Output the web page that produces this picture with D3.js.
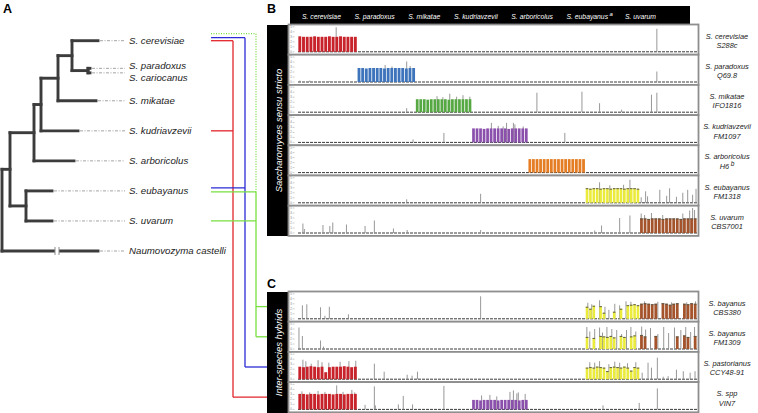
<!DOCTYPE html>
<html><head><meta charset="utf-8">
<script src="https://cdn.jsdelivr.net/npm/d3@7"></script>
<style>
html,body{margin:0;padding:0;background:#fff;}
svg{display:block;font-family:"Liberation Sans",Arial,Helvetica,sans-serif;}
</style></head><body>
<svg id="chart" width="758" height="413"></svg>
<script>
// ================= DATA =================
const refSpecies = ["S. cerevisiae","S. paradoxus","S. mikatae","S. kudriavzevii","S. arboricolus","S. eubayanus","S. uvarum"];
const refSuperscript = ["","","","","","a",""];
const genomeMb = [12.1, 11.9, 11.5, 11.5, 11.7, 11.1, 11.7];
const chromosomeCount = 16;
const yTickValues = [0,1,2,3,4,5];

// phylogeny: [node, parent, branch length]
const treeEdges = [
  ["root","",0],["sss","root",8],["nau","root",96],
  ["arbN","sss",24],["eubN","sss",16],
  ["kudN","arbN",7],["arb","arbN",40],
  ["mikN","kudN",17],["kud","kudN",37],
  ["cerN","mikN",14],["mik","mikN",38],
  ["cer","cerN",26],["parN","cerN",16],
  ["par","parN",2],["car","parN",2],
  ["eub","eubN",26],["uva","eubN",26]
];
const leafIds   = ["cer","par","car","mik","kud","arb","eub","uva","nau"];
const leafNames = ["S. cerevisiae","S. paradoxus","S. cariocanus","S. mikatae","S. kudriavzevii","S. arboricolus","S. eubayanus","S. uvarum","Naumovozyma castelli"];
const leafRank  = [0, 0.92, 1.07, 2, 3, 4, 5, 6, 7];

// panel rows: [species label, strain, superscript]
const panelBRows = [["S. cerevisiae","S288c",""],["S. paradoxus","Q69.8",""],["S. mikatae","IFO1816",""],["S. kudriavzevii","FM1097",""],["S. arboricolus","H6","b"],["S. eubayanus","FM1318",""],["S. uvarum","CBS7001",""]];
const panelCRows = [["S. bayanus","CBS380",""],["S. bayanus","FM1309",""],["S. pastorianus","CCY48-91",""],["S. spp","VIN7",""]];

// coverage blocks per strain: [reference species index, 16 chromosome values]
const cov_S288c   = [[0,[3.1,3.0,3.0,3.0,3.1,3.0,3.0,3.0,3.1,3.0,3.0,3.1,3.0,3.0,3.0,3.0]]];
const cov_Q698    = [[1,[2.8,2.8,2.7,2.8,2.8,2.8,2.8,2.7,2.8,2.8,2.8,2.8,2.8,2.7,2.8,2.8]]];
const cov_IFO1816 = [[2,[2.6,2.6,2.6,2.5,2.6,2.6,2.6,2.6,2.6,2.5,2.6,2.6,2.6,2.6,2.6,2.6]]];
const cov_FM1097  = [[3,[2.8,2.8,2.8,2.7,2.8,2.8,2.8,2.8,2.8,2.8,2.7,2.8,2.8,2.8,2.8,2.8]]];
const cov_H6      = [[4,[2.7,2.7,2.7,2.7,2.7,2.7,2.7,2.7,2.7,2.7,2.7,2.7,2.7,2.7,2.7,2.7]]];
const cov_FM1318  = [[5,[2.9,2.8,2.9,2.9,2.8,2.9,2.9,2.8,2.9,2.9,2.9,2.8,2.9,2.9,2.9,2.8]]];
const cov_CBS7001 = [[6,[2.9,2.9,2.8,2.9,2.9,2.9,2.8,2.9,2.9,2.9,2.9,2.8,2.9,2.9,2.9,2.9]]];
const cov_CBS380  = [[5,[2.4,2.0,2.6,0,2.5,1.2,0,0,1.4,0,2.0,0,2.7,2.8,2.9,2.7]],
                     [6,[3.0,3.1,3.0,2.9,3.0,0,3.1,3.0,2.8,3.0,3.1,0,3.0,2.9,3.1,3.0]]];
const cov_FM1309  = [[5,[2.4,0,2.2,0,2.6,2.5,2.4,2.6,2.3,0,2.6,2.4,0,2.5,2.7,0]],
                     [6,[2.8,2.5,0,0,2.6,0,0,0,0,0,2.5,0,2.7,2.4,0,2.6]]];
const cov_CCY4891 = [[0,[2.5,2.4,2.5,2.6,2.5,2.4,2.5,1.4,2.4,2.5,2.5,2.5,2.6,2.5,2.4,2.5]],
                     [5,[2.3,2.4,2.3,2.5,2.4,2.3,1.6,2.4,2.5,2.4,2.3,2.5,2.3,1.7,2.4,2.3]]];
const cov_VIN7    = [[0,[3.1,3.1,3.0,3.1,3.1,3.0,3.1,3.1,3.1,3.0,3.1,3.1,3.0,3.1,3.1,3.1]],
                     [3,[1.9,1.9,1.8,1.9,1.9,1.9,1.9,1.8,1.9,1.9,1.9,1.9,1.9,1.8,1.9,1.9]]];

// read-depth spikes: [position along concatenated genomes (Mb), depth]
const spk_S288c   = [[7.8,4.9],[73.3,4.6]];
const spk_Q698    = [[0.4,0.3],[2.4,0.3],[6.5,0.2],[17.8,3.4],[19.2,3.1],[22.2,4.1],[22.9,3.2],[73.3,2.1]];
const spk_IFO1816 = [[22.2,0.8],[28.4,3.2],[29.6,3.0],[31.0,3.7],[32.4,3.1],[33.7,3.4],[35.1,3.1],[48.8,3.9],[58.0,4.1],[61.6,1.8],[66.1,0.5],[72.2,3.5],[73.3,3.9]];
const spk_FM1097  = [[23.5,0.6],[29.8,1.9],[39.5,3.9],[40.9,3.3],[41.9,3.2],[42.6,3.9],[44.0,3.9],[44.3,3.6],[46.0,3.2],[54.5,1.9]];
const spk_H6      = [];
const spk_FM1318  = [[22.2,0.7],[37.3,1.8],[61.6,4.1],[63.7,3.5],[66.5,3.6],[67.8,4.6],[70.1,1.1],[71.0,2.3],[71.4,1.3],[73.9,2.6],[75.3,1.4],[75.9,2.9],[77.3,1.2],[78.6,2.0],[79.6,2.6],[80.6,1.6],[81.3,2.8]];
const spk_CBS7001 = [[1.0,1.9],[1.3,0.8],[5.1,1.6],[6.5,1.4],[7.1,2.1],[9.9,1.7],[13.7,1.4],[15.6,2.5],[19.5,0.9],[22.3,0.6],[37.3,0.6],[60.6,0.5],[62.0,1.5],[65.7,3.0],[67.8,3.5],[70.1,3.9],[70.8,3.6],[72.2,4.0],[74.5,3.6],[78.6,3.9],[80.0,4.5],[80.6,5.0],[81.0,4.6]];
const spk_CBS380  = [[0.9,2.7],[1.8,2.9],[4.6,2.3],[5.5,0.6],[6.4,2.4],[10.3,0.9],[37.3,4.5],[59.2,3.2],[60.0,2.9],[61.6,3.7],[62.7,2.4],[63.5,1.8],[64.7,3.0],[65.7,2.7],[67.0,3.5],[68.0,3.4],[70.8,3.5],[73.5,3.4],[76.3,3.3],[79.4,3.3],[81.2,3.5]];
const spk_FM1309  = [[0.2,4.3],[0.9,2.6],[4.6,1.7],[5.2,0.5],[59.0,4.4],[59.6,3.5],[60.6,4.0],[61.6,4.3],[62.2,3.3],[63.1,4.4],[64.1,4.0],[65.1,3.8],[66.1,3.0],[67.1,3.8],[68.0,4.4],[69.0,3.5],[70.2,4.5],[71.0,3.9],[72.0,4.2],[73.5,3.0],[74.7,4.4],[75.7,3.2],[76.9,4.3],[78.2,3.8],[79.2,4.4],[80.2,3.4],[81.0,4.4]];
const spk_CCY4891 = [[1.0,3.9],[1.6,3.6],[2.7,3.1],[4.1,3.8],[4.9,3.4],[6.3,3.3],[8.6,3.5],[10.4,3.6],[11.8,3.7],[15.6,3.1],[17.6,1.5],[22.3,0.9],[23.3,0.7],[24.4,1.5],[59.6,3.4],[60.6,3.3],[61.6,3.6],[63.5,3.0],[64.7,3.5],[65.7,3.3],[67.3,3.2],[69.0,3.4],[70.3,1.3],[71.5,3.3],[72.2,2.3],[73.4,4.3],[74.6,0.5],[75.6,0.6],[77.3,1.9],[78.7,1.6],[80.1,1.3],[81.1,1.6]];
const spk_VIN7    = [[0.8,3.6],[2.4,3.4],[4.1,3.7],[5.5,3.5],[7.9,4.8],[9.2,3.5],[11.0,3.9],[11.6,3.4],[13.7,0.9],[15.6,4.6],[15.8,0.8],[20.5,1.0],[21.5,2.7],[23.4,1.0],[29.8,4.7],[37.5,2.8],[39.2,2.9],[40.6,2.6],[43.3,3.5],[44.0,3.8],[44.7,3.2],[45.0,3.4],[46.4,3.1],[62.3,0.8],[69.7,1.3],[73.4,4.2]];

// hybrid parentage links: [parental leaf ids, target hybrid strains, line kind]
const hybridLinks = [
  [["cer","kud"], ["VIN7"], "red"],
  [["cer","eub"], ["CCY48-91"], "blue"],
  [["eub","uva"], ["CBS380","FM1309"], "green"],
  [["cer","eub"], [], "greenDotted"]
];

// ================= DRAWING =================
const svg = d3.select("#chart");
const speciesColor = d3.scaleOrdinal().domain(d3.range(7))
  .range(["#c8232b","#3d74bb","#56a843","#8b4fac","#e57d24","#ebeb3c","#a4532b"]);
const offsets = Array.from(d3.cumsum([0, ...genomeMb]));
const totalMb = d3.sum(genomeMb);
const x = d3.scaleLinear().domain([0, totalMb]).range([298, 697]);

// ---- panel letters ----
svg.append("text").attr("x",3).attr("y",13).attr("font-size",12.5).attr("font-weight","bold").text("A");
svg.append("text").attr("x",267).attr("y",13).attr("font-size",12.5).attr("font-weight","bold").text("B");
svg.append("text").attr("x",267).attr("y",288).attr("font-size",12.5).attr("font-weight","bold").text("C");

// ---- tree ----
const root = d3.stratify().id(d=>d[0]).parentId(d=>d[1] || null)(treeEdges);
root.eachBefore(n => { n.depthLen = (n.parent ? n.parent.depthLen : 0) + n.data[2]; });
const tx = d3.scaleLinear().domain([0, 96]).range([2, 98]);
const ty = d3.scaleLinear().domain([0, 7]).range([40.7, 251]);
root.eachAfter(n => {
  if (!n.children) n.yy = ty(leafRank[leafIds.indexOf(n.id)]);
  else n.yy = d3.mean(n.children, c => c.yy);
});
const treeG = svg.append("g");
const treeColor = "#3c3c3c";
root.each(n => {
  if (n.parent) {
    treeG.append("line").attr("x1", tx(n.parent.depthLen)).attr("x2", tx(n.depthLen))
      .attr("y1", n.yy).attr("y2", n.yy).attr("stroke", treeColor).attr("stroke-width", 2.9).attr("stroke-linecap","square");
  }
  if (n.children) {
    const ys = n.children.map(c => c.yy);
    treeG.append("line").attr("x1", tx(n.depthLen)).attr("x2", tx(n.depthLen))
      .attr("y1", d3.min(ys)).attr("y2", d3.max(ys)).attr("stroke", treeColor).attr("stroke-width", 2.9).attr("stroke-linecap","square");
  }
});
// long-branch break on outgroup
const nau = root.find(n => n.id === "nau");
treeG.append("rect").attr("x", 55).attr("y", nau.yy-3).attr("width", 4).attr("height", 6).attr("fill", "#fff");
[55, 59].forEach(bx => treeG.append("line").attr("x1",bx).attr("x2",bx).attr("y1",nau.yy-4).attr("y2",nau.yy+4)
  .attr("stroke","#8a8a8a").attr("stroke-width",1));
// leaf guide lines + labels
root.leaves().forEach(l => {
  const i = leafIds.indexOf(l.id);
  treeG.append("line").attr("x1", tx(l.depthLen)+2).attr("x2", 125).attr("y1", l.yy).attr("y2", l.yy)
    .attr("stroke", "#a4a4a4").attr("stroke-width", 1).attr("stroke-dasharray", "3,1.5,1,1.5");
  const nudge = l.id === "par" ? -2.3 : (l.id === "car" ? 5 : 0);
  treeG.append("text").attr("x", 129).attr("y", l.yy + nudge + 3.4)
    .attr("font-size", 9.7).attr("font-style", "italic").attr("fill", "#222").text(leafNames[i]);
});

// ---- panel geometry ----
const rowH = 30.2;
const rowsB = panelBRows.map((r,i) => ({label:r, top: 24.5 + i*rowH,
  cov:[cov_S288c,cov_Q698,cov_IFO1816,cov_FM1097,cov_H6,cov_FM1318,cov_CBS7001][i],
  spk:[spk_S288c,spk_Q698,spk_IFO1816,spk_FM1097,spk_H6,spk_FM1318,spk_CBS7001][i]}));
const rowsC = panelCRows.map((r,i) => ({label:r, top: 291.5 + i*rowH,
  cov:[cov_CBS380,cov_FM1309,cov_CCY4891,cov_VIN7][i],
  spk:[spk_CBS380,spk_FM1309,spk_CCY4891,spk_VIN7][i]}));

// ---- hybrid connector lines ----
const linkColor = {red:"#e1252b", blue:"#2a2ad6", green:"#78df40", greenDotted:"#78df40"};
const laneX = {red:233, blue:245, green:256, greenDotted:256};
const laneDy = {red:{cer:0,kud:0}, blue:{cer:-3,eub:-3}, green:{eub:1,uva:0}, greenDotted:{cer:-7}};
const leafY = id => root.find(n => n.id === id).yy;
const rowCenter = strain => { const r = rowsC.find(r => r.label[1] === strain); return r.top + rowH/2; };
const linkG = svg.append("g").attr("fill","none");
hybridLinks.forEach(([parents, targets, kind]) => {
  const col = linkColor[kind], lx = laneX[kind];
  const dash = kind === "greenDotted" ? "1,1.5" : null;
  const ys = [];
  parents.forEach(p => {
    if (kind === "greenDotted" && p !== "cer") { ys.push(leafY(p) + laneDy.green[p]); return; }
    const yy = leafY(p) + laneDy[kind][p];
    ys.push(yy);
    linkG.append("line").attr("x1",211).attr("x2",lx).attr("y1",yy).attr("y2",yy)
      .attr("stroke",col).attr("stroke-width",1.3).attr("stroke-dasharray",dash);
  });
  targets.forEach(t => {
    const yy = rowCenter(t); ys.push(yy);
    linkG.append("line").attr("x1",lx).attr("x2",268).attr("y1",yy).attr("y2",yy)
      .attr("stroke",col).attr("stroke-width",1.3);
  });
  linkG.append("line").attr("x1",lx).attr("x2",lx).attr("y1",d3.min(ys)).attr("y2",d3.max(ys))
    .attr("stroke",col).attr("stroke-width",1.3).attr("stroke-dasharray",dash);
});

// ---- side bars ----
function sideBar(y0, y1, label) {
  svg.append("rect").attr("x",267).attr("y",y0).attr("width",21).attr("height",y1-y0).attr("fill","#000");
  svg.append("text").attr("transform",`translate(278.5,${(y0+y1)/2}) rotate(-90)`)
    .attr("text-anchor","middle").attr("dominant-baseline","central")
    .attr("font-size",9.5).attr("font-style","italic").attr("fill","#fff").text(label);
}
sideBar(25, 236, "Saccharomyces sensu stricto");
sideBar(292, 413, "Inter-species hybrids");

// ---- header ----
svg.append("rect").attr("x",290).attr("y",6).attr("width",400).attr("height",19.5).attr("fill","#000");
const headG = svg.append("g").attr("font-size",6.8).attr("font-style","italic").attr("fill","#fff");
const headTexts = refSpecies.map((s,i) => {
  const t = headG.append("text").attr("y",18.5).text(s);
  if (refSuperscript[i]) t.append("tspan").attr("dy",-2.5).attr("dx",1.5).attr("font-size",6).text(refSuperscript[i]);
  return t;
});
const widths = headTexts.map(t => t.node().getComputedTextLength());
const gap = (656 - 302 - d3.sum(widths)) / (refSpecies.length - 1);
let cx = 302;
headTexts.forEach((t,i) => { t.attr("x", cx); cx += widths[i] + gap; });

// ---- rows ----
function drawRow(row) {
  const g = svg.append("g");
  const top = row.top;
  const y = d3.scaleLinear().domain([0,5]).range([top + 27.3, top + 2.3]);
  g.append("rect").attr("x",288.5).attr("y",top).attr("width",410).attr("height",rowH)
    .attr("fill","#fff").attr("stroke","#8e8e8e").attr("stroke-width",1.8);
  // tiny axis
  yTickValues.forEach(v => {
    g.append("text").attr("x",290.3).attr("y",y(v)+1).attr("font-size",2.8).attr("fill","#777").text(v);
    g.append("line").attr("x1",292.5).attr("x2",294.5).attr("y1",y(v)).attr("y2",y(v)).attr("stroke","#999").attr("stroke-width",0.5);
  });
  // baseline
  g.append("line").attr("x1",x(0)).attr("x2",x(totalMb)).attr("y1",y(0)).attr("y2",y(0))
    .attr("stroke","#3a3a3a").attr("stroke-width",1).attr("stroke-dasharray","3,1");
  // spikes
  g.selectAll(".spk").data(row.spk).join("line")
    .attr("x1",d=>x(d[0])).attr("x2",d=>x(d[0])).attr("y1",y(0)).attr("y2",d=>y(d[1]))
    .attr("stroke","#8c8c8c").attr("stroke-width",0.9);
  // coloured blocks
  row.cov.forEach(([s, vals]) => {
    const w = genomeMb[s] / chromosomeCount;
    vals.forEach((v, c) => {
      if (v <= 0) return;
      const x0 = x(offsets[s] + c*w), x1 = x(offsets[s] + (c+1)*w);
      g.append("rect").attr("x", x0 + 0.35).attr("width", x1 - x0 - 0.8)
        .attr("y", y(v)).attr("height", y(0) - y(v)).attr("fill", speciesColor(s));
      if (s >= 5) {
        g.append("line").attr("x1",x0+0.35).attr("x2",x1-0.45).attr("y1",y(v)+0.4).attr("y2",y(v)+0.4)
          .attr("stroke","#5a5a4a").attr("stroke-width",1);
      }
    });
  });
  // right label
  const lg = g.append("g").attr("font-size",7.4).attr("font-style","italic").attr("fill","#222").attr("text-anchor","middle");
  lg.append("text").attr("x",727).attr("y",top+14).text(row.label[0]);
  const t2 = lg.append("text").attr("x",727).attr("y",top+23.5).text(row.label[1]);
  if (row.label[2]) t2.append("tspan").attr("dy",-2.5).attr("dx",1.5).attr("font-size",6.5).text(row.label[2]);
}
rowsB.forEach(drawRow);
rowsC.forEach(drawRow);
</script>
</body></html>
